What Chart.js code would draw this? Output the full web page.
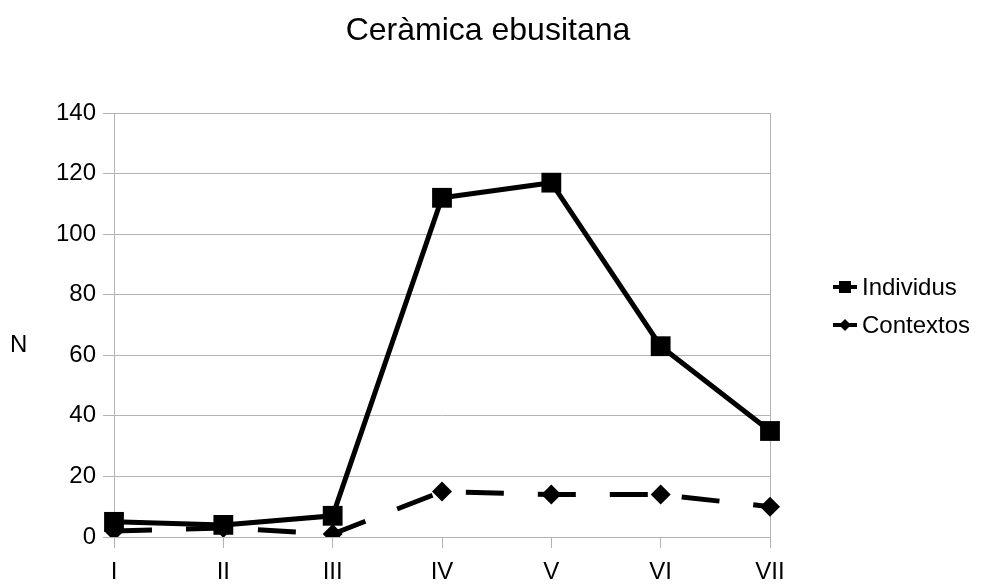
<!DOCTYPE html>
<html>
<head>
<meta charset="utf-8">
<script src="https://cdn.jsdelivr.net/npm/chart.js@4"></script>
<style>
  html, body { margin: 0; padding: 0; background: #fff; }
  #wrap { width: 981px; height: 584px; }
</style>
</head>
<body>
<div id="wrap"><canvas id="myChart" width="981" height="584"></canvas></div>
<script>
// dades del gràfic
const periodes = ["I", "II", "III", "IV", "V", "VI", "VII"];
const individus = [5, 4, 7, 112, 117, 63, 35];
const contextos = [2, 3, 1, 15, 14, 14, 10];
const yTicks = [0, 20, 40, 60, 80, 100, 120, 140];

const FONT = "'Liberation Sans', Arial, sans-serif";
const gris = "#b3b3b3";

// títol, etiqueta N i llegenda
const extres = {
  id: "extres",
  afterDraw(chart) {
    const c = chart.ctx;
    c.save();
    c.fillStyle = "#000";
    c.textBaseline = "alphabetic";
    c.font = "32px " + FONT;
    c.textAlign = "center";
    c.fillText("Ceràmica ebusitana", 488, 40);
    c.font = "24px " + FONT;
    c.textAlign = "left";
    c.fillText("N", 10, 352);

    // llegenda
    const items = [
      { t: "Individus", y: 287, m: "sq" },
      { t: "Contextos", y: 325, m: "dm" }
    ];
    items.forEach(it => {
      c.strokeStyle = "#000";
      c.lineWidth = 4;
      c.beginPath();
      c.moveTo(833, it.y);
      c.lineTo(857, it.y);
      c.stroke();
      c.fillStyle = "#000";
      if (it.m === "sq") {
        c.fillRect(839, it.y - 6, 12, 12);
      } else {
        c.beginPath();
        c.moveTo(845, it.y - 6);
        c.lineTo(851, it.y);
        c.lineTo(845, it.y + 6);
        c.lineTo(839, it.y);
        c.closePath();
        c.fill();
      }
      c.font = "24px " + FONT;
      c.fillText(it.t, 862, it.y + 8);
    });
    c.restore();
  }
};

const ctx = document.getElementById("myChart").getContext("2d");
new Chart(ctx, {
  type: "line",
  data: {
    labels: periodes,
    datasets: [{
      label: "Contextos",
      data: contextos,
      borderColor: "#000",
      backgroundColor: "#000",
      borderWidth: 5,
      borderDash: [38, 34],
      pointStyle: "rectRot",
      pointRadius: 10,
      pointBorderWidth: 0,
      tension: 0,
      fill: false
    }, {
      label: "Individus",
      data: individus,
      borderColor: "#000",
      backgroundColor: "#000",
      borderWidth: 5,
      pointStyle: "rect",
      pointRadius: 14,
      pointBorderWidth: 0,
      tension: 0,
      fill: false
    }]
  },
  options: {
    responsive: false,
    animation: false,
    layout: { padding: { top: 113, right: 211, left: 0, bottom: 0 } },
    plugins: {
      legend: { display: false },
      title: { display: false },
      tooltip: { enabled: false }
    },
    scales: {
      x: {
        offset: false,
        grid: {
          color: (c) => (c.index === periodes.length - 1 ? gris : "transparent"),
          tickColor: gris,
          tickLength: 11,
          lineWidth: 1
        },
        border: { color: gris },
        ticks: {
          color: "#000",
          font: { family: FONT, size: 24 },
          padding: 10,
          maxRotation: 0,
          autoSkip: false
        },
        afterFit(s) { s.height = 47; }
      },
      y: {
        min: 0,
        max: 140,
        afterBuildTicks(s) { s.ticks = yTicks.map(v => ({ value: v })); },
        grid: { color: gris, tickColor: gris, tickLength: 11 },
        border: { color: gris },
        ticks: {
          color: "#000",
          font: { family: FONT, size: 24 },
          padding: 7
        },
        afterFit(s) { s.width = 114; }
      }
    }
  },
  plugins: [extres]
});
</script>
</body>
</html>
